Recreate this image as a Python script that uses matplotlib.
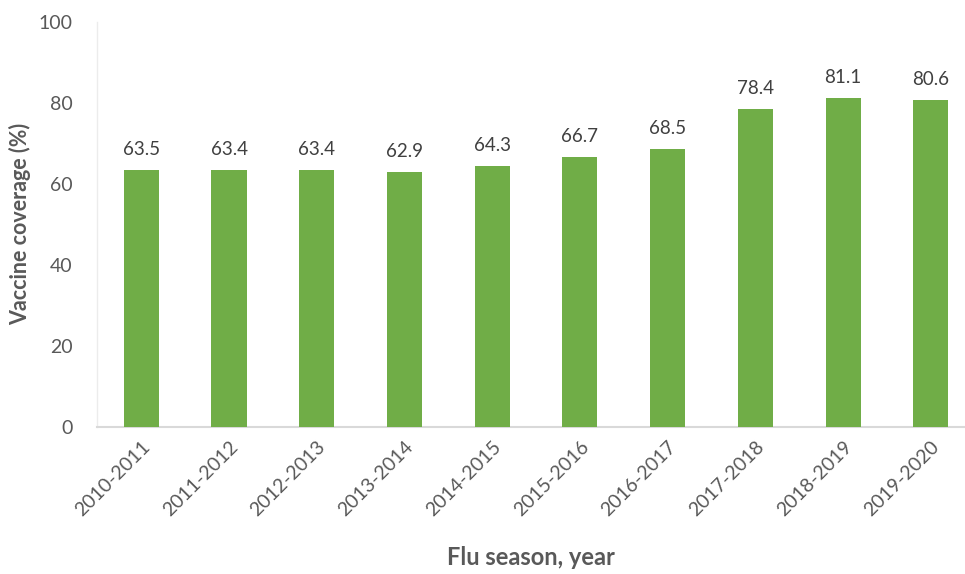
import matplotlib.pyplot as plt

# datos
temporadas = ['2010-2011', '2011-2012', '2012-2013', '2013-2014', '2014-2015',
              '2015-2016', '2016-2017', '2017-2018', '2018-2019', '2019-2020']
cobertura = [63.5, 63.4, 63.4, 62.9, 64.3, 66.7, 68.5, 78.4, 81.1, 80.6]

plt.rcParams['font.family'] = ['Lato', 'DejaVu Sans']

fig = plt.figure(figsize=(9.65, 5.74), dpi=100)
ax = fig.add_axes([0.101, 0.256, 0.899, 0.706])

x = range(len(temporadas))
barras = ax.bar(x, cobertura, width=0.4, color='#70ad47', zorder=3)

for xi, v in zip(x, cobertura):
    ax.text(xi, v + 3, f'{v:.1f}', ha='center', va='bottom', fontsize=13.5, color='#404040')

ax.set_ylim(0, 100)
ax.set_xlim(-0.5, 9.39)
ax.set_yticks([0, 20, 40, 60, 80, 100])
ax.set_xticks(list(x))
ax.set_xticklabels(temporadas, rotation=45, ha='right', rotation_mode='anchor')
ax.tick_params(axis='both', length=0, labelsize=14, colors='#595959')
ax.tick_params(axis='y', pad=18)
ax.tick_params(axis='x', pad=8)

for s in ['top', 'right']:
    ax.spines[s].set_visible(False)
ax.spines['left'].set_color('#ececec')
ax.spines['left'].set_linewidth(1)
ax.spines['bottom'].set_color('#d9d9d9')
ax.spines['bottom'].set_linewidth(1.5)

ax.set_ylabel('Vaccine coverage (%)', fontsize=15.5, fontweight='bold', color='#595959', labelpad=5)
ax.set_xlabel('Flu season, year', fontsize=17, fontweight='bold', color='#595959', labelpad=19)

plt.savefig('out.png', dpi=100)
